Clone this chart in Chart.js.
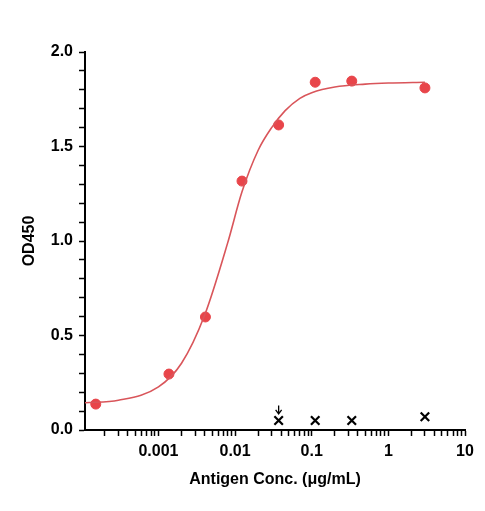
<!DOCTYPE html>
<html>
<head>
<meta charset="utf-8">
<script src="https://cdn.jsdelivr.net/npm/chart.js@4/dist/chart.umd.min.js"></script>
<style>
  html, body { margin: 0; padding: 0; background: #fff; }
  #wrap { width: 485px; height: 511px; }
</style>
</head>
<body>
<div id="wrap"><canvas id="chart"></canvas></div>
<script>
// Datos medidos (3x diluciones)
const concs = [0.000152, 0.00137, 0.0041, 0.0123, 0.037, 0.111, 0.333, 3];
const odValues = [0.137, 0.296, 0.598, 1.317, 1.614, 1.84, 1.846, 1.81];

// Curva ajustada
const curveX = [0.00011, 0.0003, 0.001, 0.002, 0.004, 0.008, 0.0123, 0.02, 0.03, 0.045, 0.07, 0.1, 0.2, 0.5, 1, 3];
const curveY = [0.144, 0.157, 0.228, 0.353, 0.607, 0.99, 1.26, 1.48, 1.6, 1.69, 1.755, 1.785, 1.815, 1.83, 1.836, 1.84];

// Controles negativos (cruces)
const ctrlX = [0.037, 0.111, 0.333, 3];
const ctrlY = [0.05, 0.05, 0.05, 0.07];

const majorTicks = [0.001, 0.01, 0.1, 1, 10];

const toPts = (xs, ys) => xs.map((x, i) => ({ x: x, y: ys[i] }));

// ticks menores del eje logarítmico
function logTicks() {
    const t = [];
    for (let e = -4; e <= 0; e++) {
        for (let m = 1; m <= 9; m++) {
            const v = m * Math.pow(10, e);
            if (v >= 0.0002) t.push({ value: v });
        }
    }
    t.push({ value: 10 });
    return t;
}

// flecha sobre el primer control
const arrowPlugin = {
    id: 'arrow',
    afterDatasetsDraw(chart) {
        const { ctx, scales } = chart;
        const px = scales.x.getPixelForValue(ctrlX[0]);
        const y1 = scales.y.getPixelForValue(0.13);
        const y2 = scales.y.getPixelForValue(0.085);
        ctx.save();
        ctx.strokeStyle = '#000';
        ctx.lineWidth = 1.3;
        ctx.beginPath();
        ctx.moveTo(px, y1);
        ctx.lineTo(px, y2);
        ctx.moveTo(px - 3, y2 - 4);
        ctx.lineTo(px, y2);
        ctx.lineTo(px + 3, y2 - 4);
        ctx.stroke();
        ctx.restore();
    }
};

const font = { family: 'Liberation Sans, Arial', size: 16, weight: 'bold' };

new Chart(document.getElementById('chart'), {
    type: 'scatter',
    data: {
        datasets: [
            {
                type: 'line',
                data: toPts(curveX, curveY),
                borderColor: '#d9555a',
                borderWidth: 1.6,
                pointRadius: 0,
                cubicInterpolationMode: 'monotone',
                fill: false
            },
            {
                data: toPts(concs, odValues),
                backgroundColor: '#e8454a',
                borderColor: '#e8454a',
                pointRadius: 5
            },
            {
                data: toPts(ctrlX, ctrlY),
                pointStyle: 'crossRot',
                borderColor: '#000',
                borderWidth: 2.2,
                pointRadius: 6
            }
        ]
    },
    options: {
        responsive: true,
        maintainAspectRatio: false,
        animation: false,
        layout: { padding: { top: 52, right: 20, left: 20, bottom: 22 } },
        plugins: { legend: { display: false }, tooltip: { enabled: false } },
        scales: {
            x: {
                type: 'logarithmic',
                min: 0.00011,
                max: 10,
                afterBuildTicks: (s) => { s.ticks = logTicks(); },
                afterFit: (s) => { s.height = 59; },
                grid: { drawOnChartArea: false, color: '#000', tickLength: 6, tickWidth: 1.5 },
                border: { color: '#000', width: 2 },
                ticks: {
                    color: '#000',
                    font: font,
                    autoSkip: false,
                    maxRotation: 0,
                    padding: 6,
                    callback: (v) => majorTicks.includes(v) ? String(v) : ''
                },
                title: { display: true, text: 'Antigen Conc. (μg/mL)', color: '#000', font: font, padding: { top: 4, bottom: 0 } }
            },
            y: {
                min: 0,
                max: 2,
                afterBuildTicks: (s) => {
                    const t = [];
                    for (let i = 0; i <= 20; i++) t.push({ value: i / 10 });
                    s.ticks = t;
                },
                afterFit: (s) => { s.width = 65; },
                grid: { drawOnChartArea: false, color: '#000', tickLength: 6, tickWidth: 1.5 },
                border: { color: '#000', width: 2 },
                ticks: {
                    color: '#000',
                    font: font,
                    autoSkip: false,
                    padding: 6,
                    callback: (v) => (Math.round(v * 10) % 5 === 0) ? v.toFixed(1) : ''
                },
                title: { display: true, text: 'OD450', color: '#000', font: font, padding: 0 }
            }
        }
    },
    plugins: [arrowPlugin]
});
</script>
</body>
</html>
